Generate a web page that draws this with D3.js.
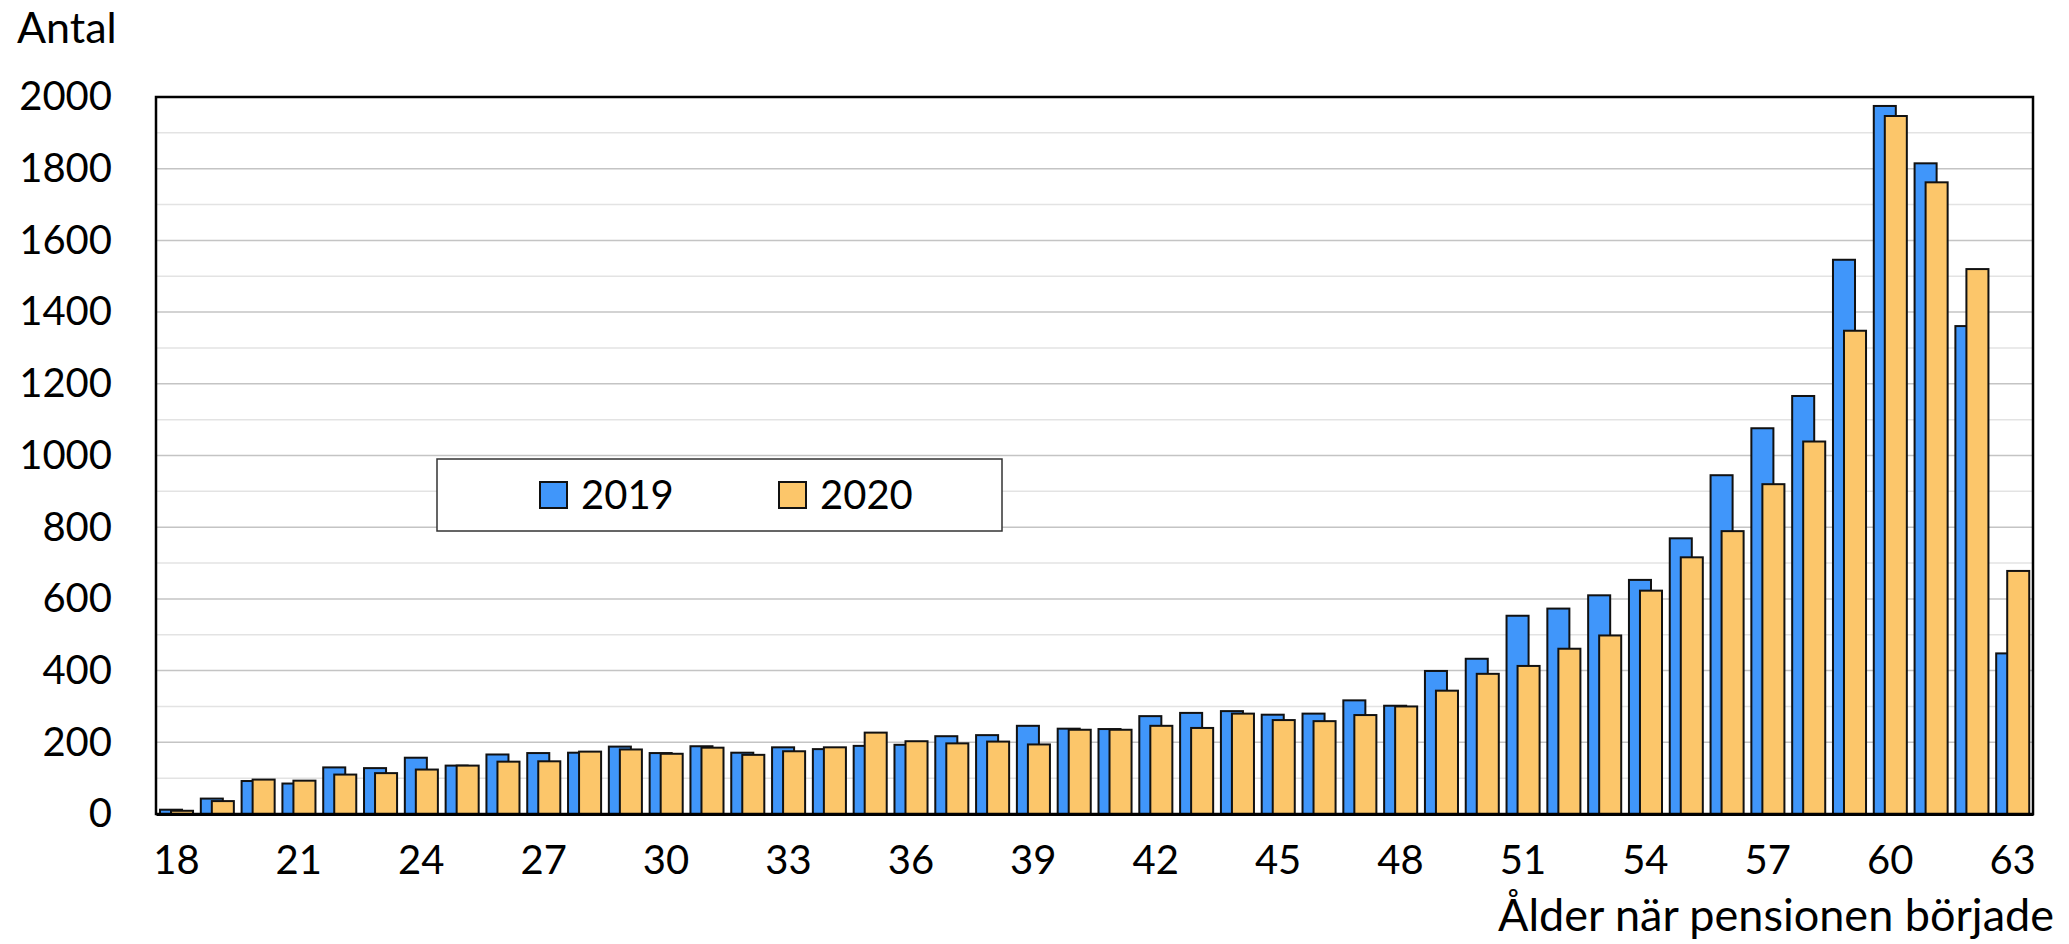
<!DOCTYPE html>
<html>
<head>
<meta charset="utf-8">
<script src="https://cdn.jsdelivr.net/npm/d3@7"></script>
<style>
  body { margin: 0; background: #fff; }
  svg text { font-family: Lato, "Noto Sans", sans-serif; fill: #000; }
</style>
</head>
<body>
<svg id="chart"></svg>
<script>
const width = 2069;
const height = 944;

const ages = d3.range(18, 64);
const series = ['2019', '2020'];
const values2019 = [12, 43, 92, 85, 130, 128, 157, 135, 166, 170, 171, 188, 170, 189, 171, 186, 181, 190, 193, 217,
    220, 246, 238, 237, 273, 282, 287, 277, 280, 317, 302, 399, 433, 553, 573, 610, 653, 769, 945, 1076,
    1166, 1546, 1975, 1815, 1361, 448];
const values2020 = [9, 36, 96, 93, 110, 114, 124, 135, 146, 147, 174, 180, 168, 185, 165, 175, 186, 227, 203, 197,
    202, 194, 235, 235, 246, 240, 280, 262, 259, 276, 300, 344, 391, 413, 461, 498, 623, 716, 789, 920,
    1039, 1348, 1947, 1762, 1520, 678];
const yTicks = d3.range(0, 2001, 200);
const xTicks = ages.filter(a => (a - 18) % 3 === 0);
const colors = ['#4096fa', '#fcc66a'];

const plot = {left: 156, right: 2033, top: 97, bottom: 814};

const svg = d3.select('#chart')
    .attr('width', width)
    .attr('height', height);

const x = d3.scaleBand().domain(ages).range([plot.left, plot.right]).padding(0);
const y = d3.scaleLinear().domain([0, 2000]).range([plot.bottom, plot.top]);

// gridlines every 100, the 200-steps a bit darker
svg.append('g').selectAll('line')
    .data(d3.range(100, 2000, 100))
    .join('line')
    .attr('x1', plot.left).attr('x2', plot.right)
    .attr('y1', d => y(d)).attr('y2', d => y(d))
    .attr('stroke', d => d % 200 === 0 ? '#c4c4c4' : '#e3e3e3')
    .attr('stroke-width', 1.5);

const bw = x.bandwidth();
const barW = bw * 0.54;
const offsets = [bw * 0.098, bw * 0.368];
const data = [values2019, values2020];

data.forEach((vals, i) => {
    svg.append('g').selectAll('rect')
        .data(ages.map((a, j) => ({age: a, v: vals[j]})))
        .join('rect')
        .attr('x', d => x(d.age) + offsets[i])
        .attr('y', d => y(d.v))
        .attr('width', barW)
        .attr('height', d => y(0) - y(d.v))
        .attr('fill', colors[i])
        .attr('stroke', '#111')
        .attr('stroke-width', 2);
});

// frame
svg.append('rect')
    .attr('x', plot.left).attr('y', plot.top)
    .attr('width', plot.right - plot.left).attr('height', plot.bottom - plot.top)
    .attr('fill', 'none').attr('stroke', '#000').attr('stroke-width', 2.5);

const yAxis = svg.append('g')
    .attr('transform', `translate(${plot.left},0)`)
    .call(d3.axisLeft(y).tickValues(yTicks).tickFormat(d3.format('d')).tickSize(0).tickPadding(44));
yAxis.select('.domain').remove();

const xAxis = svg.append('g')
    .attr('transform', `translate(0,${plot.bottom})`)
    .call(d3.axisBottom(x).tickValues(xTicks).tickSize(0).tickPadding(32));
xAxis.select('.domain').attr('stroke', '#000').attr('stroke-width', 3);

svg.selectAll('.tick text')
    .attr('font-family', 'Lato, "Noto Sans", sans-serif')
    .attr('font-size', 40)
    .attr('fill', '#000');

svg.append('text')
    .attr('x', 17).attr('y', 43)
    .attr('font-size', 43)
    .text('Antal');

svg.append('text')
    .attr('x', 2054).attr('y', 931)
    .attr('text-anchor', 'end')
    .attr('font-size', 45)
    .text('Ålder när pensionen började');

// legend
const legend = svg.append('g');
legend.append('rect')
    .attr('x', 437).attr('y', 459)
    .attr('width', 565).attr('height', 72)
    .attr('fill', '#fff').attr('stroke', '#333').attr('stroke-width', 1.5);

const legendX = [540, 779];
series.forEach((s, i) => {
    legend.append('rect')
        .attr('x', legendX[i]).attr('y', 482)
        .attr('width', 27).attr('height', 26)
        .attr('fill', colors[i]).attr('stroke', '#111').attr('stroke-width', 2);
    legend.append('text')
        .attr('x', legendX[i] + 41).attr('y', 509)
        .attr('font-size', 40)
        .text(s);
});
</script>
</body>
</html>
